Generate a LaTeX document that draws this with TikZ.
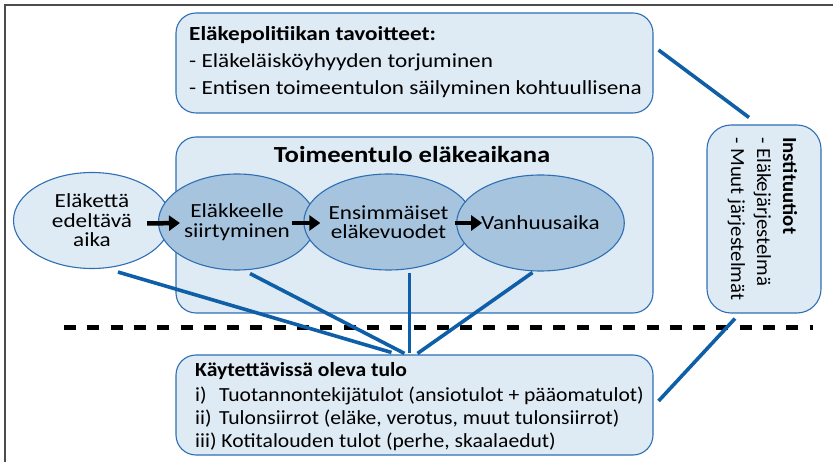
\documentclass[tikz,border=0pt]{standalone}
\usepackage{fontspec}
\setmainfont[FakeStretch=1.16]{Carlito}
\newfontfamily\botfont[FakeStretch=1.08]{Carlito}
\newfontfamily\instfont[FakeStretch=1.04]{Carlito}
\usetikzlibrary{shapes.geometric,arrows.meta,calc}
\definecolor{lightfill}{HTML}{DEEAF4}
\definecolor{darkfill}{HTML}{A7C4DE}
\definecolor{edge}{HTML}{2E6FB3}
\definecolor{conncol}{HTML}{0F5FA8}
\tikzset{
  box/.style={draw=edge, line width=1.1pt, fill=lightfill, rounded corners=20pt, inner sep=0pt},
  ell/.style={ellipse, draw=edge, line width=1.1pt, inner sep=0pt, minimum width=157pt, minimum height=96pt, align=center, font=\fontsize{20}{19.5}\selectfont},
  lightell/.style={ell, fill=lightfill},
  darkell/.style={ell, fill=darkfill},
  conn/.style={draw=conncol, line width=3.6pt},
  arr/.style={draw=black, line width=4.5pt, -{Triangle[length=11pt,width=15pt]}},
  txt/.style={anchor=base west, inner sep=0pt, font=\fontsize{20}{24}\selectfont},
  btxt/.style={txt, font=\fontsize{20}{24}\selectfont\bfseries},
  bot/.style={anchor=base west, inner sep=0pt, font=\botfont\fontsize{20}{24}\selectfont},
  bbot/.style={bot, font=\botfont\fontsize{20}{24}\selectfont\bfseries},
  insttxt/.style={anchor=base west, inner sep=0pt, rotate=-90, font=\instfont\fontsize{20}{24}\selectfont},
  binsttxt/.style={insttxt, font=\instfont\fontsize{20}{24}\selectfont\bfseries},
  frame/.style={draw=black!70, line width=2pt}
}
\begin{document}
\begin{tikzpicture}[x=1pt,y=-1pt]
\useasboundingbox (0,0) rectangle (833,462);
% frame
\coordinate (fa) at (833,5);
\coordinate (fb) at (5,5);
\coordinate (fc) at (5,462);
\draw[frame] (fa) -- (fb) -- (fc);

% top box
\node[box, minimum width=477pt, minimum height=100pt] (top) at (414.5,63) {};
\node[btxt] (toptitle) at (189,41) {Eläkepolitiikan tavoitteet:};
\node[txt] (top1) at (189,68) {- Eläkeläisköyhyyden torjuminen};
\node[txt] (top2) at (189,95) {- Entisen toimeentulon säilyminen kohtuullisena};

% middle box
\node[box, minimum width=477pt, minimum height=176pt] (mid) at (414.5,225) {};
\node[anchor=base, inner sep=0pt, font=\fontsize{23}{24}\selectfont\bfseries] (midtitle) at (412,163) {Toimeentulo eläkeaikana};

% ellipses
\node[lightell] (e1) at (92,220.5) {Eläkettä\\edeltävä\\aika};
\node[darkell] (e2) at (237,222) {Eläkkeelle\\siirtyminen};
\node[darkell] (e3) at (388.5,222) {Ensimmäiset\\eläkevuodet};
\node[darkell, minimum width=161pt] (e4) at (540.5,223) {Vanhuusaika};

% arrows
\draw[arr] ($(e1.east)+(-24,3)$) -- ($(e2.west)+(22,1)$);
\draw[arr] ($(e2.east)+(-24,1)$) -- ($(e3.west)+(17,1)$);
\draw[arr] ($(e3.east)+(-19,1)$) -- ($(e4.west)+(26,0)$);

% institutions box
\node[box, rounded corners=24pt, minimum width=114pt, minimum height=188pt] (inst) at (764,219) {};
\node[binsttxt] (insttitle) at (783,137) {Instituutiot};
\node[insttxt] (inst1) at (757,137) {- Eläkejärjestelmä};
\node[insttxt] (inst2) at (731,137) {- Muut järjestelmät};

% dashed separator
\coordinate (d1) at (64,328);
\coordinate (d2) at (813,328);
\draw[line width=5pt, dash pattern=on 12pt off 11.3pt] (d1) -- (d2);

% bottom box
\node[box, minimum width=477pt, minimum height=100pt] (botbox) at (414.5,405) {};
\node[bbot] (bottitle) at (195,377) {Käytettävissä oleva tulo};
\node[bot] (b1l) at (195,401) {i)};
\node[bot] (b1) at (219,401) {Tuotannontekijätulot (ansiotulot + pääomatulot)};
\node[bot] (b2l) at (195,424) {ii)};
\node[bot] (b2) at (219,424) {Tulonsiirrot (eläke, verotus, muut tulonsiirrot)};
\node[bot] (b3) at (195,447) {iii) Kotitalouden tulot (perhe, skaalaedut)};

% connectors
\draw[conn] ($(e1.south)+(26,3)$) -- ($(botbox.north)+(-23,-2)$);
\draw[conn] ($(e2.south)+(13,3)$) -- ($(botbox.north)+(-10,-1)$);
\draw[conn] ($(e3.south)+(21,2)$) -- ($(botbox.north)+(-5,-1)$);
\draw[conn] ($(e4.south)+(-8,1)$) -- ($(botbox.north)+(3,-1)$);
\draw[conn] ($(top.east)+(5,-13)$) -- ($(inst.north)+(-15,-7)$);
\draw[conn] ($(inst.south)+(-29,5)$) -- ($(botbox.east)+(5,-4)$);
\end{tikzpicture}
\end{document}
